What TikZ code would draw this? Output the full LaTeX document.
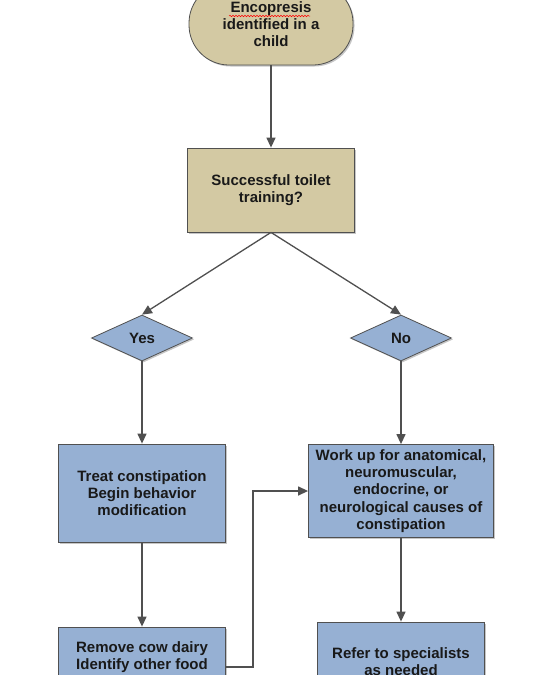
\documentclass[tikz,border=0pt]{standalone}
\usepackage{fontspec}
\setsansfont{Liberation Sans}
\usetikzlibrary{
  shapes.geometric,
  arrows.meta,
  shadows,
  decorations.pathmorphing
}
\definecolor{tanfill}{RGB}{211,201,163}
\definecolor{bluefill}{RGB}{150,176,211}
\definecolor{linegray}{RGB}{80,80,80}

\begin{document}
\begin{tikzpicture}[x=1pt, y=-1pt,
    every node/.style={font=\sffamily\bfseries\fontsize{15}{17.2}\selectfont, text=black!90, align=center},
    boxstyle/.style={rectangle, draw=linegray, line width=0.8pt,
      drop shadow={shadow xshift=1.5pt, shadow yshift=-1.5pt, opacity=0.45}},
    tanbox/.style={boxstyle, fill=tanfill, minimum width=167pt, minimum height=84pt},
    bluebox/.style={boxstyle, fill=bluefill, minimum width=167pt},
    choice/.style={diamond, draw=linegray, line width=0.8pt, fill=bluefill, inner sep=0pt,
      minimum width=101pt, minimum height=46pt,
      drop shadow={shadow xshift=1.5pt, shadow yshift=-1.5pt, opacity=0.45}},
    arrowline/.style={draw=linegray, line width=1.3pt, -{Triangle[length=10pt, width=9pt]}}
  ]
      % Frame of the picture
      \clip (0,0) rectangle (543,675);

      % Start and question
      \node[tanbox, rounded corners=40pt, minimum width=164pt, minimum height=82pt] (start) at (271,24)
        {Encopresis\\identified in a\\child};
      \draw[red, line width=0.5pt, decorate, decoration={snake, amplitude=0.7pt, segment length=3pt}]
        (229,16) -- (310,16);
      \node[tanbox] (toilet) at (271,190) {Successful toilet\\training?};

      % Answers
      \node[choice] (yes) at (142,338) {Yes};
      \node[choice] (no) at (401,338) {No};

      % Steps
      \node[bluebox, minimum height=98pt] (treat) at (142,493)
        {Treat constipation\\Begin behavior\\modification};
      \node[bluebox, minimum width=185pt, minimum height=93pt] (work) at (401,491)
        {Work up for anatomical,\\neuromuscular,\\endocrine, or\\neurological causes of\\constipation};
      \node[bluebox, minimum height=80pt] (remove) at (142,667)
        {Remove cow dairy\\Identify other food\\\strut};
      \node[bluebox, minimum height=80pt] (refer) at (401,662)
        {Refer to specialists\\as needed};

      % Connectors
      \draw[arrowline] (start.south) -- (toilet.north);
      \draw[arrowline] (toilet.south) -- (yes.north);
      \draw[arrowline] (toilet.south) -- (no.north);
      \draw[arrowline] (yes.south) -- (treat.north);
      \draw[arrowline] (no.south) -- (work.north);
      \draw[arrowline] (treat.south) -- (remove.north);
      \draw[arrowline] (work.south) -- (refer.north);
      \draw[arrowline] (remove.east) -- ++(27,0) |- (work.west);
    \end{tikzpicture}
\end{document}
